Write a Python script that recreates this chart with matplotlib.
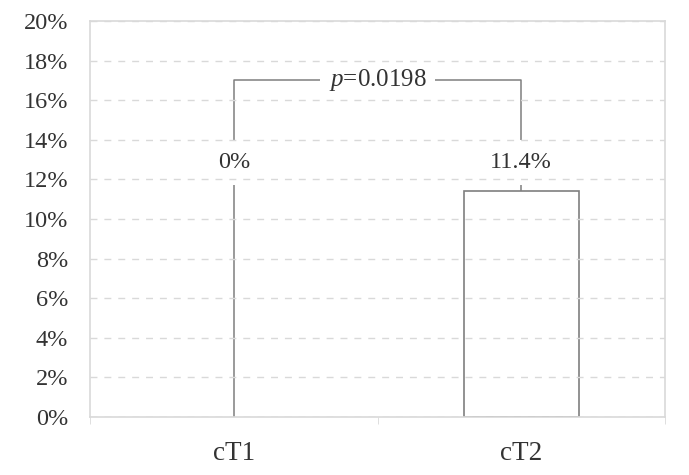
import matplotlib.pyplot as plt
import numpy as np

plt.rcParams['font.family'] = ['Liberation Serif', 'DejaVu Serif']
plt.rcParams['mathtext.fontset'] = 'custom'
plt.rcParams['mathtext.it'] = 'Liberation Serif:italic'
plt.rcParams['mathtext.rm'] = 'Liberation Serif'

categories = ['cT1', 'cT2']
rates = [0.0, 11.4]
bar_labels = ['0%', '11.4%']
p_text = r'$p$=0.0198'
bracket_y = 17
label_y = 12.85

x = np.arange(len(categories))
fig, ax = plt.subplots(figsize=(6.89, 4.75), dpi=100)
fig.subplots_adjust(left=0.131, right=0.965, top=0.956, bottom=0.122)

frame_c = '#d9d9d9'
line_c = '#7f7f7f'
text_c = '#333333'

bars = ax.bar(x, rates, width=0.4, color='white', edgecolor=line_c, linewidth=1.2, zorder=1.2)
for b, v in zip(bars, rates):
    if v == 0:
        b.set_edgecolor('none')

# bracket legs run from each bar top to the bracket line, text boxes break them
ax.plot([x[0], x[0], x[1], x[1]], [rates[0], bracket_y, bracket_y, rates[1]],
        color=line_c, linewidth=1.1, zorder=1)
ax.text((x[0] + x[1]) / 2, bracket_y, p_text, ha='center', va='center', fontsize=18,
        color=text_c, bbox=dict(facecolor='white', edgecolor='none', pad=6), zorder=1.5)
for xi, lab in zip(x, bar_labels):
    ax.text(xi, label_y, lab, ha='center', va='center', fontsize=17.5, color=text_c,
            bbox=dict(facecolor='white', edgecolor='none', pad=9), zorder=1.5)

ax.set_xlim(-0.5, 1.5)
ax.set_ylim(0, 20)
ax.set_yticks(range(0, 21, 2))
ax.set_yticklabels(['{}%'.format(v) for v in range(0, 21, 2)], fontsize=17.5, color=text_c)
ax.set_xticks(x)
ax.set_xticklabels(categories, fontsize=19.5, color=text_c)
ax.tick_params(axis='y', length=0, pad=16)
ax.tick_params(axis='x', length=0, pad=17)
# boundary ticks between categories
ax.set_xticks([-0.5, 0.5, 1.5], minor=True)
ax.tick_params(axis='x', which='minor', length=5, color=frame_c, direction='out')

ax.yaxis.grid(True, linestyle=(0, (5, 5)), color=frame_c, linewidth=1)
ax.set_axisbelow(False)
for s in ax.spines.values():
    s.set_color(frame_c)
    s.set_linewidth(1.2)

fig.savefig('out.png', dpi=100)
